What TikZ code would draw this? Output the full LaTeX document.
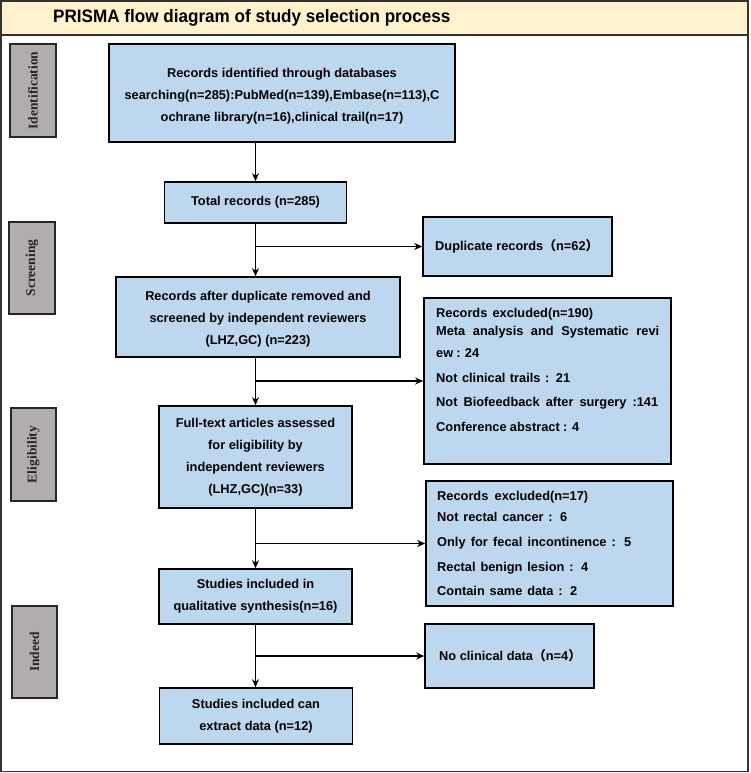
\documentclass[tikz,border=0pt]{standalone}
\usepackage{fontspec}
\setmainfont{Liberation Sans}
\newfontfamily\serifbf{Liberation Serif}
\newfontfamily\cjk{Noto Sans CJK SC}
\usetikzlibrary{arrows.meta}
\definecolor{boxblue}{HTML}{BDD7EE}
\definecolor{sidegray}{HTML}{B1ADAD}
\definecolor{titlecream}{HTML}{FFF2CC}
\definecolor{framegray}{HTML}{333333}
\tikzset{
  flowbox/.style={draw=black, line width=1.6pt, fill=boxblue, inner sep=0pt, align=center,
    font=\fontsize{12.8}{22}\selectfont\bfseries},
  sidebox/.style={draw=black!85, line width=1.6pt, fill=sidegray, inner sep=0pt},
  sidetext/.style={rotate=90, font=\fontsize{13.5}{15}\selectfont\serifbf\bfseries, text=black!85},
  listtext/.style={anchor=north west, inner sep=0pt, align=left,
    font=\fontsize{12.8}{15}\selectfont\bfseries},
  arr/.style={line width=1.6pt, -{Stealth[length=8pt,width=7pt]}}
}
\begin{document}
\begin{tikzpicture}[x=1pt,y=-1pt]
\useasboundingbox (0,0) rectangle (750,773);
% frame and title band
\fill[titlecream] (1,1) rectangle (748,35);
\draw[framegray, line width=1.6pt] (1,1) rectangle (748,771.5);
\draw[framegray, line width=1.6pt] (1,35) -- (748,35);
\node[anchor=west, inner sep=0pt, font=\fontsize{18}{20}\selectfont\bfseries] (title) at (53,17.5)
  {\scalebox{0.95}[1]{PRISMA flow diagram of study selection process}};

% side labels
\node[sidebox, minimum width=46pt, minimum height=93pt] (sid) at (33,90.5) {};
\node[sidetext] (sidt) at (sid.center) {Identification};
\node[sidebox, minimum width=46pt, minimum height=92pt] (sscr) at (32,268) {};
\node[sidetext] (sscrt) at (sscr.center) {Screening};
\node[sidebox, minimum width=45pt, minimum height=93pt] (sel) at (33.5,454.5) {};
\node[sidetext] (selt) at (sel.center) {Eligibility};
\node[sidebox, minimum width=45pt, minimum height=92pt] (sin) at (34.5,652) {};
\node[sidetext] (sint) at (sin.center) {Indeed};

% main boxes
\node[flowbox, minimum width=346pt, minimum height=98pt] (b1) at (282,93) {};
\node[inner sep=0pt, align=center, font=\fontsize{12.8}{22}\selectfont\bfseries] (b1t) at (282,96)
  {Records identified through databases\\searching(n=285):PubMed(n=139),Embase(n=113),C\\ochrane library(n=16),clinical trail(n=17)};
\node[flowbox, minimum width=182pt, minimum height=41pt] (b2) at (255.5,202.5) {Total records (n=285)};
\node[flowbox, minimum width=284pt, minimum height=80pt] (b3) at (258,317) {};
\node[inner sep=0pt, align=center, font=\fontsize{12.8}{22}\selectfont\bfseries] (b3t) at (258,319)
  {Records after duplicate removed and\\screened by independent reviewers\\(LHZ,GC) (n=223)};
\node[flowbox, minimum width=193pt, minimum height=102pt] (b4) at (255.5,457)
  {Full-text articles assessed\\for eligibility by\\independent reviewers\\(LHZ,GC)(n=33)};
\node[flowbox, minimum width=193pt, minimum height=55pt] (b5) at (255.5,596.5)
  {Studies included in\\qualitative synthesis(n=16)};
\node[flowbox, minimum width=193pt, minimum height=56pt] (b6) at (256,716)
  {Studies included can\\extract data (n=12)};

% exclusion boxes
\node[flowbox, minimum width=189pt, minimum height=59pt] (dup) at (517.5,246.5) {};
\node[anchor=west, inner sep=0pt, font=\fontsize{12.8}{15}\selectfont\bfseries] (dupt) at (435,246.5)
  {Duplicate records{\cjk（}n=62{\cjk）}};
\node[flowbox, minimum width=247pt, minimum height=166pt] (ex1) at (547.5,381) {};
\node[listtext] (ex1t) at (436,308)
  {\makebox[157pt][s]{Records excluded(n=190)}\\[3pt]
   \makebox[223pt][s]{Meta analysis and Systematic revi}\\[7pt]
   \makebox[43pt][s]{ew : 24}\\[10pt]
   \makebox[134pt][s]{Not clinical trails : 21}\\[9pt]
   \makebox[222pt][s]{Not Biofeedback after surgery :141}\\[10pt]
   \makebox[143pt][s]{Conference abstract : 4}};
\node[flowbox, minimum width=247pt, minimum height=125pt] (ex2) at (549.5,543.5) {};
\node[listtext] (ex2t) at (437,491)
  {\makebox[151pt][s]{Records excluded(n=17)}\\[6pt]
   \makebox[130pt][s]{Not rectal cancer : 6}\\[10pt]
   \makebox[194pt][s]{Only for fecal incontinence : 5}\\[10pt]
   \makebox[151pt][s]{Rectal benign lesion : 4}\\[9pt]
   \makebox[140pt][s]{Contain same data : 2}};
\node[flowbox, minimum width=169pt, minimum height=64pt] (nocd) at (509.5,656) {};
\node[anchor=west, inner sep=0pt, font=\fontsize{12.8}{15}\selectfont\bfseries] (nocdt) at (439,656)
  {No clinical data{\cjk（}n=4{\cjk）}};

% connectors
\draw[arr] (b2.north |- b1.south) -- (b2.north);
\draw[arr] (b2.south) -- (b2.south |- b3.north);
\draw[arr] (b2.south |- b3.south) -- (b2.south |- b4.north);
\draw[arr] (b2.south |- b4.south) -- (b2.south |- b5.north);
\draw[arr] (b2.south |- b5.south) -- (b2.south |- b6.north);
\draw[arr] (b2.south |- dup.west) -- (dup.west);
\draw[arr] (b2.south |- ex1.west) -- (ex1.west);
\draw[arr] (b2.south |- ex2.west) -- (ex2.west);
\draw[arr] (b2.south |- nocd.west) -- (nocd.west);
\end{tikzpicture}
\end{document}
